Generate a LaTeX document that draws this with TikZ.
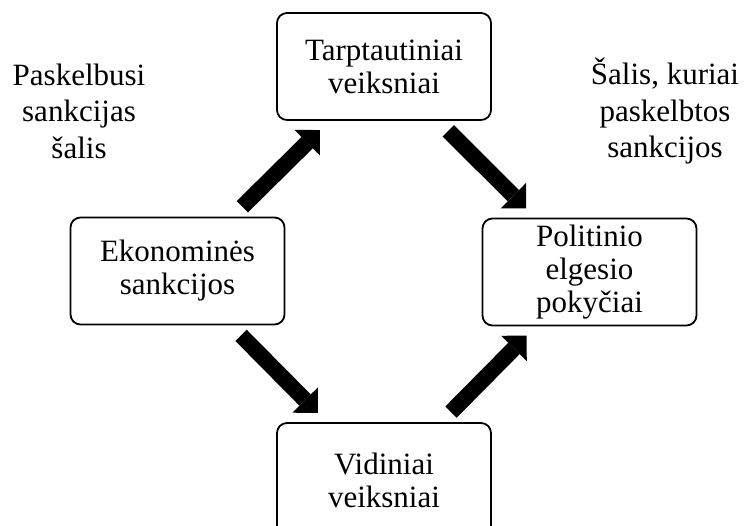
\documentclass[tikz,border=0pt]{standalone}
\usepackage{fontspec}
\setmainfont{Liberation Serif}
\usetikzlibrary{arrows.meta,positioning}

\begin{document}
\begin{tikzpicture}[x=1pt,y=1pt,on grid,
    box/.style={draw, line width=1.8pt, rounded corners=10pt, align=center,
      minimum width=214pt, minimum height=107pt, inner sep=0pt,
      font=\fontsize{31}{33}\selectfont},
    side/.style={align=center, inner sep=0pt, font=\fontsize{31}{36.5}\selectfont},
    flow/.style={line width=16pt, -{Triangle[length=18pt,width=36pt,line width=0pt]},
      shorten <=14pt, shorten >=13pt}]
  \clip (0,0) rectangle (744,525);
  \node (T) [box] at (384,458.5) {Tarptautiniai\\veiksniai};
  \node (E) [box, below left=204.5pt and 206.5pt of T] {Ekonominės\\sankcijos};
  \node (P) [box, below right=205.5pt and 205.5pt of T] {Politinio\\elgesio\\pokyčiai};
  \node (V) [box, minimum height=114pt, below=413.5pt of T] {Vidiniai\\veiksniai};
  \node (L) [side] at (79,414) {Paskelbusi\\sankcijas\\šalis};
  \node (R) [side] at (665,414) {Šalis, kuriai\\paskelbtos\\sankcijos};
  \path[flow] (E) edge (T)
                  edge (V);
  \path[flow] (T) edge (P)
              (V) edge (P);
\end{tikzpicture}
\end{document}
